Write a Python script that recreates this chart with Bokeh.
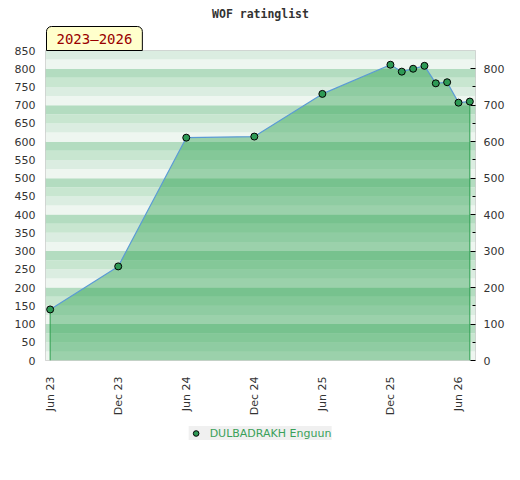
from bokeh.plotting import figure
from bokeh.layouts import column
from bokeh.models import (LinearAxis, FixedTicker, Range1d, BoxAnnotation, Title,
                          Legend, LegendItem, ColumnDataSource)
from bokeh.embed import file_html
from bokeh.resources import INLINE

# ---- data ----
months = ["2023-06", "2023-12", "2024-06", "2024-12", "2025-06", "2025-12",
          "2026-01", "2026-02", "2026-03", "2026-04", "2026-05", "2026-06", "2026-07"]
ratings = [140, 258, 611, 614, 731, 811, 792, 800, 808, 760, 763, 707, 710]
player = "DULBADRAKH Enguun"
title_text = "WOF ratinglist"
period_text = "2023\u20132026"
x_tick_months = ["2023-06", "2023-12", "2024-06", "2024-12", "2025-06", "2025-12", "2026-06"]
x_tick_labels = ["Jun 23", "Dec 23", "Jun 24", "Dec 24", "Jun 25", "Dec 25", "Jun 26"]
left_ticks = list(range(0, 851, 50))
right_ticks = list(range(0, 801, 100))
right_minor = list(range(50, 801, 100))


def month_index(s):
    y, m = s.split("-")
    return (int(y) - 2023) * 12 + int(m) - 6


xs = [month_index(s) for s in months]
tick_x = [month_index(s) for s in x_tick_months]
src = ColumnDataSource(dict(x=xs, y=ratings, zero=[0] * len(xs)))

W = 515
p = figure(width=W, height=420, output_backend="svg", toolbar_location=None,
           x_range=Range1d(-0.41, 37.5), y_range=Range1d(0, 850),
           min_border_left=45, min_border_right=40, min_border_top=50, min_border_bottom=60)
p.xgrid.visible = False
p.ygrid.visible = False
p.outline_line_color = "#cccccc"
p.background_fill_color = "white"
p.border_fill_color = "white"

# background stripes
stripe_colors = {0: "#eef6f0", 25: "#dbede1", 50: "#c8e6d0", 75: "#b3dcc0"}
for b in range(0, 850, 25):
    p.add_layout(BoxAnnotation(bottom=b, top=b + 25, fill_color=stripe_colors[b % 100],
                               fill_alpha=1, line_color=None, level="underlay"))

# area
p.varea(x="x", y1="zero", y2="y", source=src, fill_color="#1e9b43", fill_alpha=0.4)
p.segment(x0=[xs[0], xs[-1]], y0=[0, 0], x1=[xs[0], xs[-1]], y1=[ratings[0], ratings[-1]],
          line_color="#2e9e4f", line_width=1)
p.line(x="x", y="y", source=src, line_color="#5b9bd5", line_width=1.2)
marker_style = dict(size=7, fill_color="#2e9a55", line_color="black", line_width=1)
p.scatter(x="x", y="y", source=src, **marker_style)

# axes
xa = p.xaxis[0]
xa.ticker = FixedTicker(ticks=tick_x)
xa.major_label_overrides = {t: l for t, l in zip(tick_x, x_tick_labels)}
xa.major_label_orientation = 3.14159265 / 2
xa.axis_line_color = None
xa.major_tick_line_color = None
xa.minor_tick_line_color = None
xa.major_label_standoff = 10
xa.major_label_text_font = "DejaVu Sans"
xa.major_label_text_font_size = "11px"
xa.major_label_text_color = "#333333"

ya = p.yaxis[0]
ya.ticker = FixedTicker(ticks=left_ticks)
ya.axis_line_color = None
ya.major_tick_line_color = None
ya.minor_tick_line_color = None
ya.major_label_standoff = 4
ya.major_label_text_font = "DejaVu Sans"
ya.major_label_text_font_size = "11px"
ya.major_label_text_color = "#333333"

ra = LinearAxis(ticker=FixedTicker(ticks=right_ticks, minor_ticks=right_minor))
ra.axis_line_color = None
ra.major_tick_in = 5
ra.major_tick_out = 0
ra.minor_tick_in = 3
ra.minor_tick_out = 0
ra.major_tick_line_color = "black"
ra.minor_tick_line_color = "black"
ra.major_label_standoff = 8
ra.major_label_text_font = "DejaVu Sans"
ra.major_label_text_font_size = "11px"
ra.major_label_text_color = "#333333"
p.add_layout(ra, "right")

# period badge (nearest the frame) and title above it
p.add_layout(Title(text=period_text, align="left", offset=1, standoff=0,
                   text_font="DejaVu Sans Mono", text_font_size="14px",
                   text_font_style="normal", text_color="#990000",
                   background_fill_color="#ffffcc", border_line_color="black",
                   border_line_width=1, padding=(10, 4), border_radius=(5, 5, 0, 0)),
             "above")
p.add_layout(Title(text=title_text, align="center", standoff=8,
                   text_font="DejaVu Sans Mono", text_font_size="11.5px",
                   text_font_style="bold", text_color="#333333"), "above")

# legend in a small figure below
lf = figure(width=W, height=50, output_backend="svg", toolbar_location=None,
            x_range=Range1d(0, 1), y_range=Range1d(0, 1),
            x_axis_location=None, y_axis_location=None,
            min_border_left=6, min_border_right=0, min_border_top=0, min_border_bottom=0)
lf.xgrid.visible = False
lf.ygrid.visible = False
lf.outline_line_color = None
lsc = lf.scatter(x=[-5], y=[-5], **marker_style)
legend = Legend(items=[LegendItem(label=player, renderers=[lsc])], location="top_center",
                background_fill_color="#f0f0f0", background_fill_alpha=1,
                border_line_color=None, padding=4, glyph_width=14, glyph_height=14,
                label_height=13, label_standoff=7, label_text_font="DejaVu Sans",
                label_text_font_size="11px", label_text_color="#3aa05a", margin=6)
lf.add_layout(legend)

layout = column(p, lf, spacing=0)
open("out.html", "w").write(file_html(layout, INLINE))
